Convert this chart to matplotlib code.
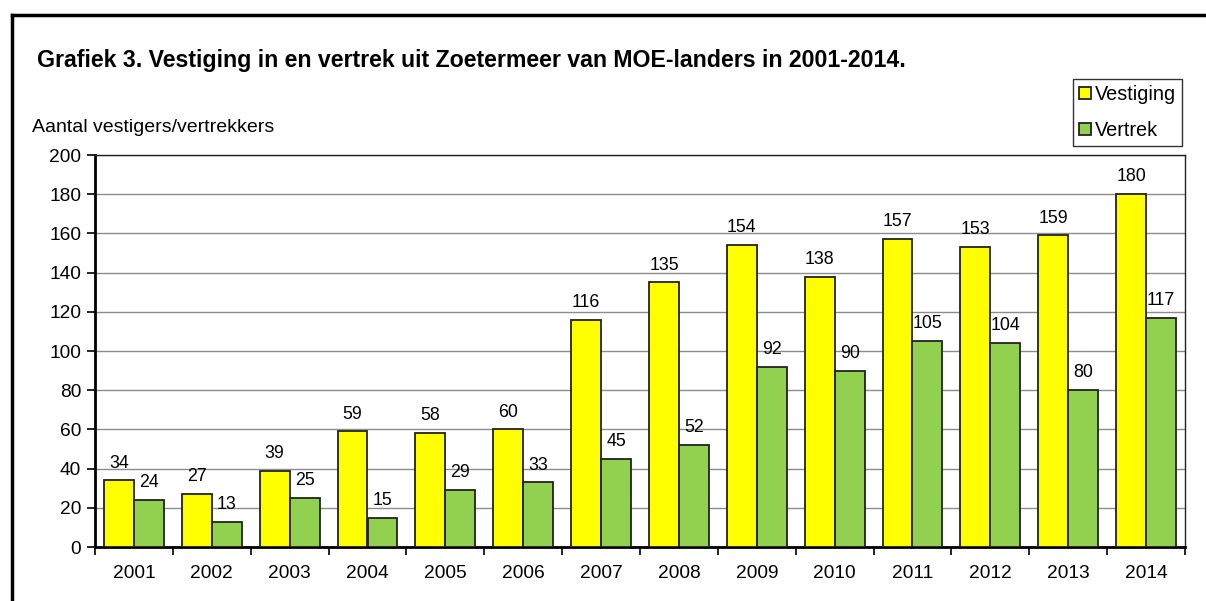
import matplotlib
matplotlib.use("Agg")
import matplotlib.pyplot as plt
import numpy as np
from matplotlib.lines import Line2D

years = ["2001", "2002", "2003", "2004", "2005", "2006", "2007",
         "2008", "2009", "2010", "2011", "2012", "2013", "2014"]
vestiging = [34, 27, 39, 59, 58, 60, 116, 135, 154, 138, 157, 153, 159, 180]
vertrek = [24, 13, 25, 15, 29, 33, 45, 52, 92, 90, 105, 104, 80, 117]

plt.rcParams['font.family'] = ['Liberation Sans', 'DejaVu Sans']

W, H = 1206, 601
fig = plt.figure(figsize=(W / 100, H / 100), dpi=100)
ax = fig.add_axes([95 / W, 1 - 547 / H, (1185 - 95) / W, (547 - 155) / H])

x = np.arange(len(years))
bw = 0.385
b1 = ax.bar(x - bw / 2, vestiging, bw, color='#FFFF00', edgecolor='#222222', linewidth=1.3, label='Vestiging', zorder=3)
b2 = ax.bar(x + bw / 2, vertrek, bw, color='#92D050', edgecolor='#222222', linewidth=1.3, label='Vertrek', zorder=3)

for xi, v in zip(x, vestiging):
    ax.text(xi - bw / 2, v + 4.5, str(v), ha='center', va='bottom', fontsize=12.8, color='black')
for xi, v in zip(x, vertrek):
    ax.text(xi + bw / 2, v + 4.5, str(v), ha='center', va='bottom', fontsize=12.8, color='black')

ax.set_xlim(-0.5, len(years) - 0.5)
ax.set_ylim(0, 200)
ax.set_yticks(np.arange(0, 201, 20))
ax.tick_params(axis='y', labelsize=13.8, direction='out', length=6, width=1.2, pad=4)
ax.set_xticks(x)
ax.set_xticklabels(years)
ax.tick_params(axis='x', labelsize=13.8, length=0, pad=13)
ax.set_xticks(np.arange(-0.5, len(years), 1), minor=True)
ax.tick_params(axis='x', which='minor', direction='out', length=6, width=1.2)
ax.yaxis.grid(True, color='#8c8c8c', linewidth=1, zorder=0)
ax.set_axisbelow(True)

for s in ['left', 'bottom']:
    ax.spines[s].set_linewidth(2)
    ax.spines[s].set_color('black')
for s in ['top', 'right']:
    ax.spines[s].set_linewidth(1)
    ax.spines[s].set_color('#222222')

leg = fig.legend(handles=[b1, b2], loc='upper right', bbox_to_anchor=(1182 / W, 1 - 79 / H),
                 fontsize=14.3, frameon=True, fancybox=False, handlelength=0.6, handleheight=0.6,
                 handletextpad=0.2, borderpad=0.3, labelspacing=0.85, borderaxespad=0)
leg.get_frame().set_edgecolor('black')
leg.get_frame().set_linewidth(1)

fig.text(37 / W, 1 - 60 / H, "Grafiek 3. Vestiging in en vertrek uit Zoetermeer van MOE-landers in 2001-2014.",
         fontsize=16.7, fontweight='bold', ha='left', va='center')
fig.text(32 / W, 1 - 128 / H, "Aantal vestigers/vertrekkers", fontsize=14, ha='left', va='center')

fig.add_artist(Line2D([11.5 / W, 11.5 / W], [0, 1 - 15 / H], color='black', linewidth=2.5, transform=fig.transFigure))
fig.add_artist(Line2D([11.5 / W, 1], [1 - 15 / H, 1 - 15 / H], color='black', linewidth=2.5, transform=fig.transFigure))

fig.savefig("out.png", dpi=100)
